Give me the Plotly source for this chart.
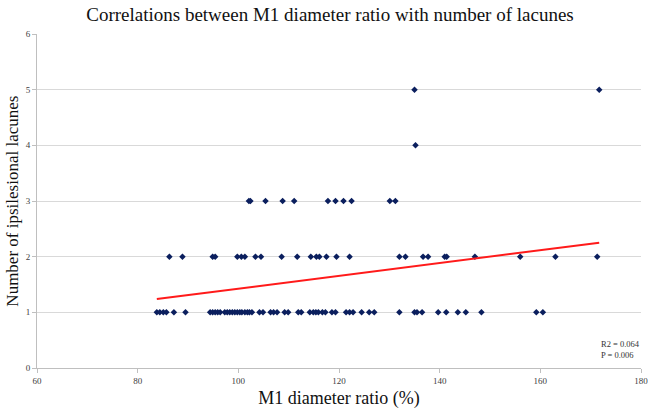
import numpy as np
import plotly.graph_objects as go

title_text = "Correlations between M1 diameter ratio with number of lacunes"
x_title = "M1 diameter ratio (%)"
y_title = "Number of ipsilesional lacunes"
stats_text = "R2 = 0.064<br>P = 0.006"

ratio_1 = [83.8, 84.4, 85.1, 85.7, 87.2, 89.5,
           94.4, 94.9, 95.4, 95.9, 96.4,
           97.3, 97.8, 98.3, 98.8, 99.3, 99.8, 100.3, 100.7, 101.3, 101.8, 102.2, 102.7,
           104.2, 104.9, 106.4, 107.0, 107.7, 109.2, 109.9, 111.9, 112.5,
           114.2, 114.9, 115.4, 115.9, 116.7, 117.3, 118.6, 119.3, 121.4, 122.1, 122.8,
           124.5, 126.0, 127.0, 132.0, 135.0, 135.5, 136.5, 139.7, 141.3, 143.6, 145.2,
           148.3, 159.2, 160.5]
ratio_2 = [86.3, 88.9, 94.9, 95.4, 99.8, 100.6, 101.3, 103.4, 104.5, 108.6, 111.7,
           114.4, 115.5, 116.1, 117.5, 119.5, 122.1, 132.0, 133.2, 136.7, 137.7,
           141.0, 141.4, 147.0, 156.0, 163.0, 171.3]
ratio_3 = [102.1, 102.4, 105.4, 108.8, 111.1, 117.8, 119.3, 120.9, 122.5, 130.1, 131.2]
ratio_4 = [135.2]
ratio_5 = [135.0, 171.7]

groups = {1: ratio_1, 2: ratio_2, 3: ratio_3, 4: ratio_4, 5: ratio_5}
xs = []
ys = []
for k, vals in groups.items():
    xs += vals
    ys += [k] * len(vals)
xs = np.array(xs)
ys = np.array(ys, dtype=float)

slope, intercept = np.polyfit(xs, ys, 1)
line_x = np.array([xs.min(), xs.max()])
line_y = slope * line_x + intercept

serif = "Liberation Serif, Times New Roman, serif"

fig = go.Figure()
fig.add_trace(go.Scatter(
    x=xs, y=ys, mode="markers",
    marker=dict(symbol="diamond", size=5, color="#0b1f5e"),
    showlegend=False, hoverinfo="skip"))
fig.add_trace(go.Scatter(
    x=line_x, y=line_y, mode="lines",
    line=dict(color="#ff1a1a", width=2),
    showlegend=False, hoverinfo="skip"))

fig.update_layout(
    width=660, height=416,
    margin=dict(l=37, r=13, t=34, b=44),
    paper_bgcolor="white", plot_bgcolor="white",
    font=dict(family=serif, color="#222222"),
    title=dict(text=title_text, x=0.5, xanchor="center", y=0.966, yanchor="middle",
               font=dict(size=19, family=serif, color="#111111")),
    xaxis=dict(range=[60, 180], dtick=20, showgrid=False, zeroline=False,
               showline=True, linecolor="#bfbfbf", linewidth=1,
               ticks="outside", ticklen=4, tickcolor="#bfbfbf",
               tickfont=dict(size=9, color="#404040", family=serif),
               title=dict(text=x_title, font=dict(size=18, family=serif, color="#111111"), standoff=6)),
    yaxis=dict(range=[0, 6], dtick=1, showgrid=True, gridcolor="#d9d9d9", gridwidth=1,
               zeroline=False, showline=True, linecolor="#bfbfbf", linewidth=1,
               ticks="outside", ticklen=4, tickcolor="#bfbfbf",
               tickfont=dict(size=9, color="#404040", family=serif)),
    annotations=[
        dict(text=y_title, xref="paper", yref="paper", x=-0.042, y=0.5,
             xanchor="center", yanchor="middle", textangle=-90, showarrow=False,
             font=dict(size=17, family=serif, color="#111111")),
        dict(text=stats_text, xref="paper", yref="paper", x=0.93, y=0.055,
             xanchor="left", yanchor="middle", align="left", showarrow=False,
             font=dict(size=8.5, family=serif, color="#333333")),
    ],
)

fig.write_html("out.html")
